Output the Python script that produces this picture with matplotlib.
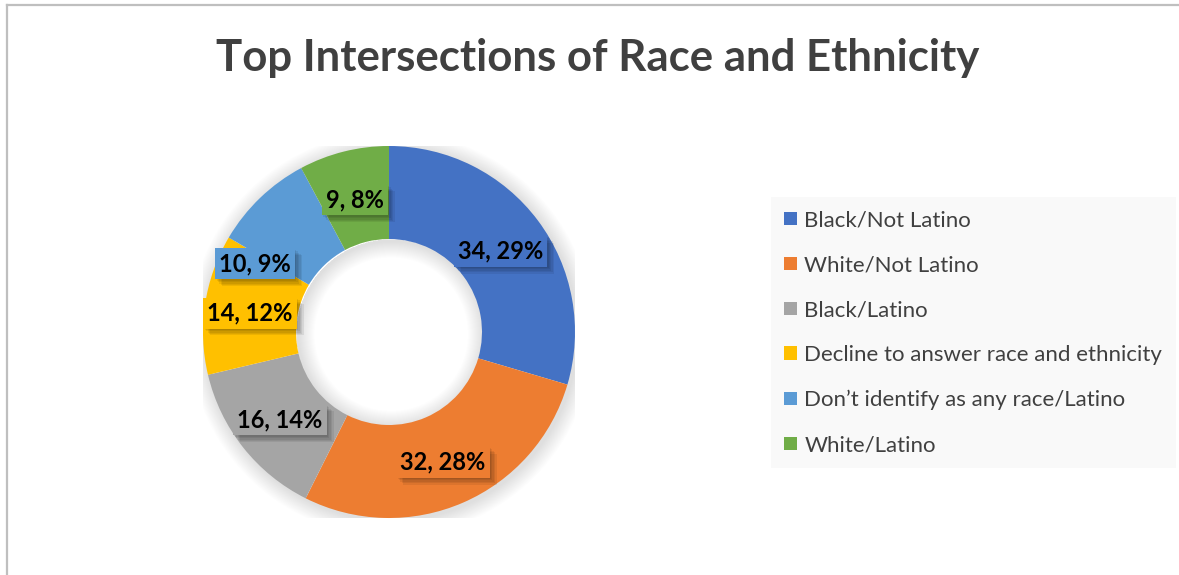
import matplotlib.pyplot as plt
from matplotlib import patheffects as pe
from matplotlib.lines import Line2D
from matplotlib.patches import Wedge

plt.rcParams['font.family'] = ['Lato', 'DejaVu Sans']

categories = [
    "Black/Not Latino",
    "White/Not Latino",
    "Black/Latino",
    "Decline to answer race and ethnicity",
    "Don\u2019t identify as any race/Latino",
    "White/Latino",
]
counts = [34, 32, 16, 14, 10, 9]
percents = [29, 28, 14, 12, 9, 8]
colors = ["#4472C4", "#ED7D31", "#A5A5A5", "#FFC000", "#5B9BD5", "#70AD47"]

# label positions in pie units (centre 0,0, radius 1)
label_pos = [(0.60, 0.435), (0.29, -0.70), (-0.586, -0.473),
             (-0.747, 0.102), (-0.72, 0.366), (-0.183, 0.71)]

W, H = 1179, 575
fig = plt.figure(figsize=(W / 100, H / 100), dpi=100)

# frame of the chart area
fig.add_artist(Line2D([7 / W, 7 / W], [0, 1 - 5 / H], color="#BFBFBF", lw=1.6))
fig.add_artist(Line2D([7 / W, 1], [1 - 5 / H, 1 - 5 / H], color="#BFBFBF", lw=1.6))

fig.text(598 / W, 1 - 58 / H, "Top Intersections of Race and Ethnicity",
         ha="center", va="center", fontsize=31.5, fontweight="bold", color="#404040")

cx, cy, r = 389, 332, 186
ax = fig.add_axes([(cx - r) / W, (H - cy - r) / H, 2 * r / W, 2 * r / H])

# soft shadow around the ring and inside the hole
steps = 16
for k in range(steps):
    a = 0.007
    ax.add_patch(Wedge((0.012, -0.012), 1 + 0.0055 * (k + 1), 0, 360,
                       width=0.0055 * (k + 1) + 0.02, fc="black", ec="none",
                       alpha=a, zorder=0))
    ax.add_patch(Wedge((0.012, -0.012), 0.5 + 0.01, 0, 360,
                       width=0.0055 * (k + 1) + 0.01, fc="black", ec="none",
                       alpha=a, zorder=0))

wedges, _ = ax.pie(counts, colors=colors, startangle=90, counterclock=False,
                   radius=1, wedgeprops=dict(width=0.5, edgecolor="none", zorder=2))
ax.set_xlim(-1, 1)
ax.set_ylim(-1, 1)
ax.set_aspect("auto")
ax.axis("off")

# blurred drop shadow for the label boxes
box_shadow = [pe.SimplePatchShadow(offset=(d, -d), shadow_rgbFace="black", alpha=0.07)
              for d in (5, 4, 3, 2, 1)] + [pe.Normal()]

for (x, y), n, p, c in zip(label_pos, counts, percents, colors):
    t = ax.text(x, y, f"{n}, {p}%", ha="center", va="center", fontsize=17,
                fontweight="bold", color="black", zorder=5,
                bbox=dict(boxstyle="square,pad=0.17", fc=c, ec="none"))
    t.get_bbox_patch().set_path_effects(box_shadow)

leg = fig.legend(wedges, categories, loc="upper left",
                 bbox_to_anchor=(771 / W, 1 - 197 / H), frameon=True,
                 fontsize=16, labelcolor="#404040", handlelength=0.55,
                 handleheight=0.55, handletextpad=0.35, labelspacing=1.12,
                 borderpad=0.6, borderaxespad=0)
leg.get_frame().set_facecolor("#F8F8F8")
leg.get_frame().set_edgecolor("none")
leg.get_frame().set_boxstyle("square", pad=0)

fig.savefig("out.png", dpi=100)
